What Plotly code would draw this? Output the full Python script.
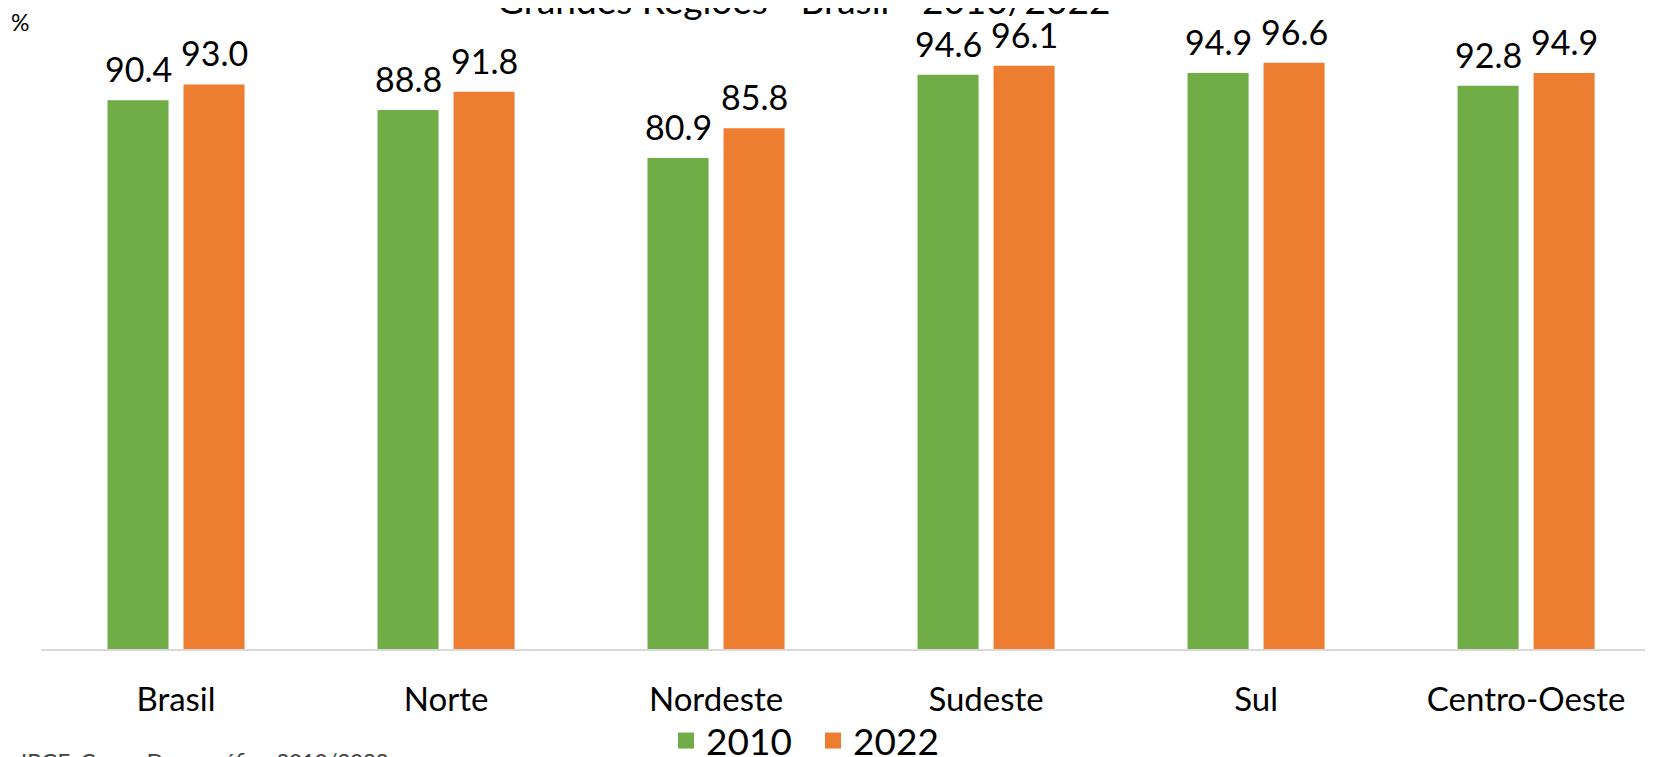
import plotly.graph_objects as go

regioes = ["Brasil", "Norte", "Nordeste", "Sudeste", "Sul", "Centro-Oeste"]
anos = ["2010", "2022"]
valores_2010 = [90.4, 88.8, 80.9, 94.6, 94.9, 92.8]
valores_2022 = [93.0, 91.8, 85.8, 96.1, 96.6, 94.9]
cores = {"2010": "#70AD47", "2022": "#ED7D31"}

FONTE = "Lato, 'Open Sans', sans-serif"

fig = go.Figure()
series = {"2010": valores_2010, "2022": valores_2022}
for ano in anos:
    fig.add_trace(
        go.Bar(
            x=regioes,
            y=series[ano],
            name=ano,
            marker=dict(color=cores[ano], line=dict(width=0)),
            showlegend=False,
            hoverinfo="x+y+name",
        )
    )
    # item de legenda com quadrado grande
    fig.add_trace(
        go.Scatter(
            x=[None],
            y=[None],
            mode="markers",
            name=ano,
            marker=dict(symbol="square", size=31, color=cores[ano]),
        )
    )

# rótulos de valor acima das barras
deslocamento = {"2010": -38, "2022": 38}
for ano in anos:
    for regiao, v in zip(regioes, series[ano]):
        fig.add_annotation(
            x=regiao,
            y=v,
            text=f"{v:.1f}",
            showarrow=False,
            xshift=deslocamento[ano],
            yshift=9,
            yanchor="bottom",
            font=dict(size=34, color="#000000", family=FONTE),
        )

fig.add_annotation(
    text="Grandes Regiões - Brasil - 2010/2022",
    xref="paper", yref="paper",
    x=(803 - 41) / 1612, y=1 + (42 - 24) / 607,
    xanchor="center", yanchor="bottom",
    showarrow=False,
    font=dict(size=37, color="#000000", family=FONTE),
)
fig.add_annotation(
    text="%",
    xref="paper", yref="paper",
    x=-(41 - 9) / 1612, y=1 + (42 - 6) / 607,
    xanchor="left", yanchor="top",
    showarrow=False,
    font=dict(size=23, color="#000000", family=FONTE),
)
fig.add_annotation(
    text="IBGE, Censo Demográfico 2010/2022.",
    xref="paper", yref="paper",
    x=-(41 - 19) / 1612, y=-(745 - 649) / 607,
    xanchor="left", yanchor="top",
    showarrow=False,
    font=dict(size=22, color="#404040", family=FONTE),
)

# a página tem margem de 8 px no body: compensa nas margens
fig.update_layout(
    width=1653,
    height=757,
    margin=dict(l=33, r=8, t=34, b=116, autoexpand=False),
    paper_bgcolor="white",
    plot_bgcolor="white",
    barmode="group",
    bargap=0.437,
    bargroupgap=0.197,
    font=dict(family=FONTE, color="#000000"),
    legend=dict(
        orientation="h",
        x=(666 - 41) / 1612,
        xanchor="left",
        y=-(710 - 649) / 607,
        yanchor="top",
        itemsizing="trace",
        font=dict(size=37, family=FONTE),
        bgcolor="rgba(0,0,0,0)",
        itemwidth=30,
        entrywidth=102,
        tracegroupgap=0,
    ),
    xaxis=dict(
        range=[-0.5, 5.47],
        showline=True,
        linecolor="#D9D9D9",
        linewidth=2,
        ticks="outside",
        ticklen=20,
        tickcolor="rgba(0,0,0,0)",
        tickfont=dict(size=33, family=FONTE),
        showgrid=False,
        fixedrange=True,
    ),
    yaxis=dict(
        range=[0, 100],
        visible=False,
        showgrid=False,
        fixedrange=True,
    ),
)

fig.write_html("out.html")
